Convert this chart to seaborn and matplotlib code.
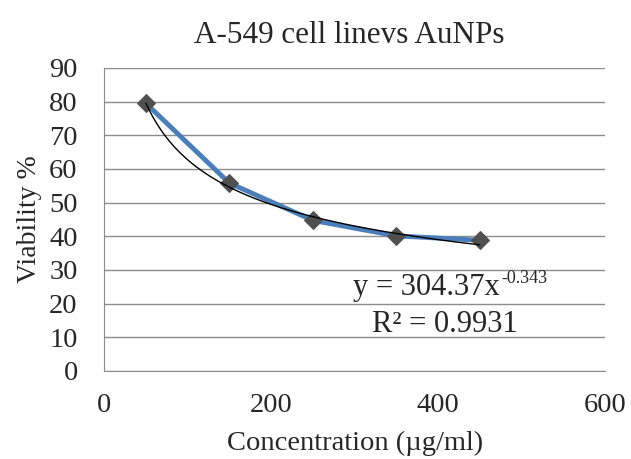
import matplotlib.pyplot as plt
import seaborn as sns
import pandas as pd
import numpy as np

concentration = [50, 150, 250, 350, 450]
viability = [79.5, 55.8, 44.7, 40.1, 38.8]

# power trendline coefficients as printed on the chart
coef_a = 304.37
coef_b = -0.343
r_squared = 0.9931

sns.set_style("white")
plt.rcParams['font.family'] = ['Liberation Serif', 'DejaVu Serif']

df = pd.DataFrame({'Concentration': concentration, 'Viability': viability})
x_fit = np.linspace(min(concentration), max(concentration), 200)
fit = pd.DataFrame({'Concentration': x_fit, 'Viability': coef_a * x_fit ** coef_b})

fig = plt.figure(figsize=(6.31, 4.59), dpi=100)
ax = fig.add_axes([0.165, 0.192, 0.794, 0.66])

sns.lineplot(x='Concentration', y='Viability', data=df, ax=ax, color='#4a7ebb',
             linewidth=3.5, marker='D', markersize=9, markerfacecolor='#505050',
             markeredgecolor='#505050', zorder=3)
sns.lineplot(x='Concentration', y='Viability', data=fit, ax=ax, color='black',
             linewidth=1, zorder=4)

ax.set_xlim(0, 600)
ax.set_ylim(0, 90)
ax.set_xticks([0, 200, 400, 600])
ax.set_yticks(range(0, 91, 10))
ax.yaxis.grid(True, color='#8c8c8c', linewidth=1)
ax.set_axisbelow(True)
for side in ['top', 'right']:
    ax.spines[side].set_visible(False)
for side in ['left', 'bottom']:
    ax.spines[side].set_color('#8c8c8c')
ax.tick_params(axis='both', labelsize=20.5, color='#8c8c8c', direction='out')
ax.tick_params(axis='x', length=6, pad=10)
ax.tick_params(axis='y', length=2, pad=17)

ax.set_title('A-549 cell linevs AuNPs', fontsize=22.4, pad=18, x=0.49)
ax.set_xlabel('Concentration (µg/ml)', fontsize=20.5, labelpad=9)
ax.set_ylabel('Viability %', fontsize=20, labelpad=5)

main = ax.text(474, 24.7, 'y = 304.37x', ha='right', va='center', fontsize=22)
ax.annotate('%.3f' % coef_b, xy=(1, 1), xycoords=main, xytext=(1, 2),
            textcoords='offset points', ha='left', va='top', fontsize=13)
ax.text(408, 13.7, 'R² = %.4f' % r_squared, ha='center', va='center', fontsize=22)

plt.savefig('out.png', dpi=100)
